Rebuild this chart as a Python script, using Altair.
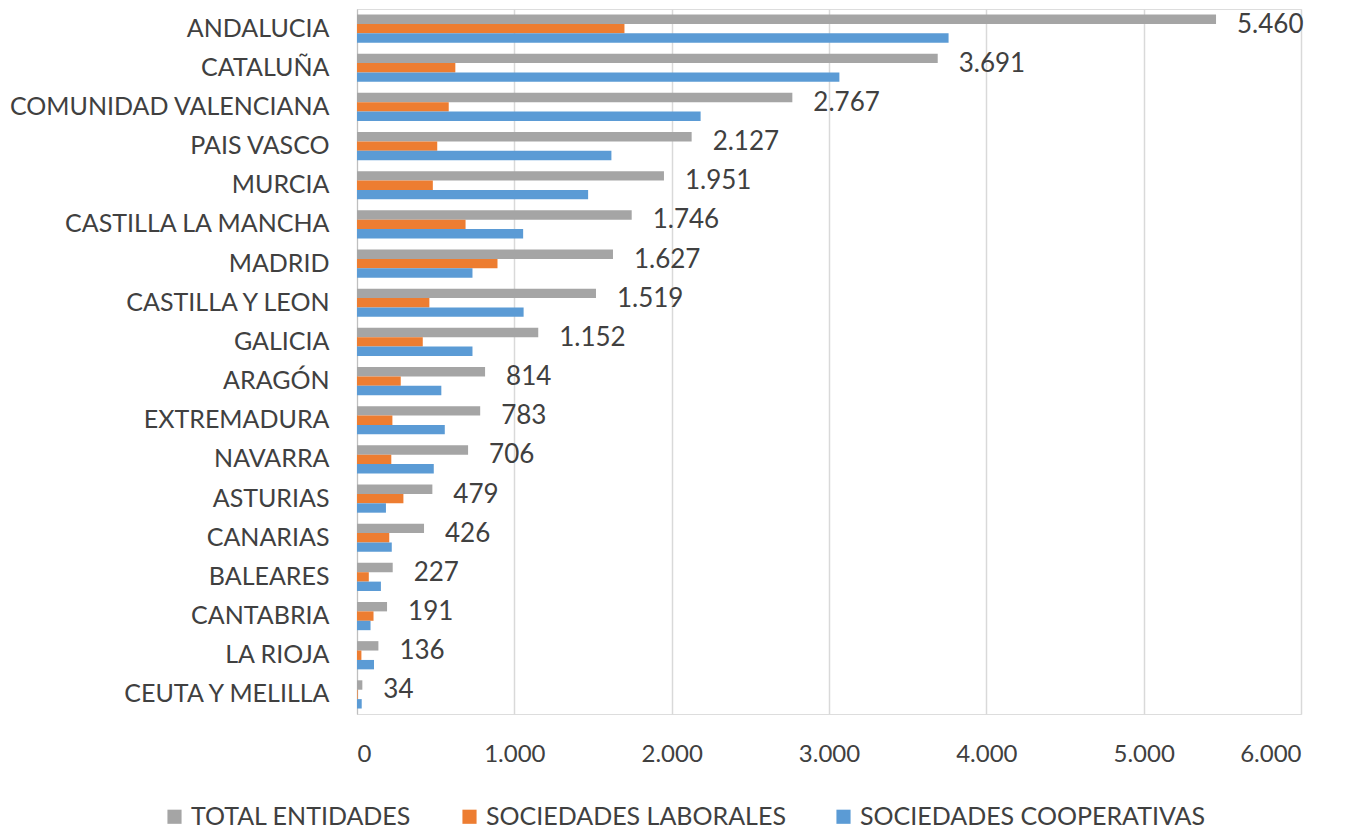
import altair as alt
import pandas as pd

regions = ["ANDALUCIA", "CATALUÑA", "COMUNIDAD VALENCIANA", "PAIS VASCO", "MURCIA",
           "CASTILLA LA MANCHA", "MADRID", "CASTILLA Y LEON", "GALICIA", "ARAGÓN",
           "EXTREMADURA", "NAVARRA", "ASTURIAS", "CANARIAS", "BALEARES", "CANTABRIA",
           "LA RIOJA", "CEUTA Y MELILLA"]
total = [5460, 3691, 2767, 2127, 1951, 1746, 1627, 1519, 1152, 814, 783, 706, 479, 426, 227, 191, 136, 34]
laborales = [1700, 625, 583, 510, 482, 690, 893, 460, 418, 278, 225, 218, 295, 205, 75, 105, 28, 4]
cooperativas = [3760, 3066, 2184, 1617, 1469, 1056, 734, 1059, 734, 536, 558, 488, 184, 221, 152, 86, 108, 30]
series = ["TOTAL ENTIDADES", "SOCIEDADES LABORALES", "SOCIEDADES COOPERATIVAS"]
colors = ["#A5A5A5", "#ED7D31", "#5B9BD5"]

rows = []
for i, r in enumerate(regions):
    for s, v in zip(series, [total[i], laborales[i], cooperativas[i]]):
        rows.append({"region": r, "serie": s, "valor": v})
df = pd.DataFrame(rows)

lab = pd.DataFrame({"region": regions, "total": total,
                    "label": [f"{v:,}".replace(",", ".") for v in total]})

FONT = "Lato"
TXT = "#404040"

y_enc = alt.Y("region:N", sort=regions, title=None,
              scale=alt.Scale(paddingInner=0.28, paddingOuter=0.14),
              axis=alt.Axis(labelFontSize=25, labelColor=TXT, labelFont=FONT,
                            ticks=False, domainColor="#BFBFBF", labelPadding=28,
                            domainWidth=1, labelLimit=500))

bars = alt.Chart(df).mark_bar(cornerRadius=0).encode(
    x=alt.X("valor:Q", title=None,
            scale=alt.Scale(domain=[0, 6000], nice=False),
            axis=alt.Axis(values=[0, 1000, 2000, 3000, 4000, 5000, 6000],
                          labelExpr="replace(format(datum.value, ','), ',', '.')",
                          labelFontSize=24, labelColor=TXT, labelFont=FONT,
                          grid=True, gridColor="#D9D9D9", gridWidth=1.5,
                          domain=False, ticks=False, labelPadding=28)),
    y=y_enc,
    yOffset=alt.YOffset("serie:N", sort=series, scale=alt.Scale(paddingInner=0)),
    color=alt.Color("serie:N", sort=series,
                    scale=alt.Scale(domain=series, range=colors),
                    legend=alt.Legend(orient="none", legendX=-195, legendY=795,
                                      direction="horizontal", title=None,
                                      symbolType="square", symbolSize=200,
                                      symbolStrokeWidth=0,
                                      labelFontSize=25, labelColor=TXT, labelFont=FONT,
                                      columnPadding=45, labelLimit=500)),
)

texts = alt.Chart(lab).mark_text(align="left", baseline="middle", dx=21, dy=-4,
                                 fontSize=26, color=TXT, font=FONT).encode(
    x=alt.X("total:Q"),
    y=alt.Y("region:N", sort=regions),
    text="label:N",
)

chart = alt.layer(bars, texts).properties(
    width=944, height=705, padding={"left": 0, "top": 1, "right": 0, "bottom": 0}
).configure_view(stroke=None).configure(background="white")

chart.save("out.html", embed_options={"renderer": "svg", "actions": False})
